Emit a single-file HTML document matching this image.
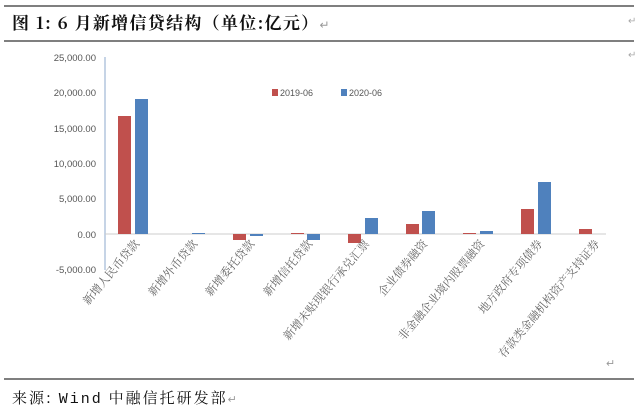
<!DOCTYPE html>
<html><head><meta charset="utf-8"><style>
body{margin:0;width:640px;height:418px;background:#fff;overflow:hidden;font-family:"Liberation Sans","Noto Sans CJK SC",sans-serif}
</style></head><body>
<svg width="640" height="418" xmlns="http://www.w3.org/2000/svg" style="position:absolute;left:0;top:0">
<line x1="4" y1="6" x2="634" y2="6" stroke="#333" stroke-width="1.2"/>
<line x1="4" y1="41" x2="634" y2="41" stroke="#333" stroke-width="1.2"/>
<text x="12" y="29" font-size="17" font-weight="bold" letter-spacing="1.3" font-family="Noto Serif CJK SC,serif" fill="#111">图 1: 6 月新增信贷结构（单位:亿元）<tspan fill="#999" font-weight="normal" font-size="12">↵</tspan></text>
<text x="628" y="24" font-size="10" fill="#aaa">↵</text>
<text x="628" y="58" font-size="10" fill="#aaa">↵</text>
<g font-size="9.5" fill="#555" text-anchor="end">
<text x="96" y="61">25,000.00</text>
<text x="96" y="96">20,000.00</text>
<text x="96" y="132">15,000.00</text>
<text x="96" y="167">10,000.00</text>
<text x="96" y="202">5,000.00</text>
<text x="96" y="238">0.00</text>
<text x="96" y="273">-5,000.00</text>
</g>
<line x1="105" y1="57" x2="105" y2="270" stroke="#8eaacc" stroke-width="1"/>
<line x1="105" y1="234" x2="606" y2="234" stroke="#ccc" stroke-width="1"/>
<g fill="#c0504d">
<rect x="118" y="116" width="13" height="118"/>
<rect x="233" y="234" width="13" height="6"/>
<rect x="291" y="233" width="13" height="1"/>
<rect x="348" y="234" width="13" height="9"/>
<rect x="406" y="224" width="13" height="10"/>
<rect x="463" y="233" width="13" height="1"/>
<rect x="521" y="209" width="13" height="25"/>
<rect x="579" y="229" width="13" height="5"/>
</g>
<g fill="#4f81bd">
<rect x="135" y="99" width="13" height="135"/>
<rect x="192" y="233" width="13" height="1"/>
<rect x="250" y="234" width="13" height="2"/>
<rect x="307" y="234" width="13" height="6"/>
<rect x="365" y="218" width="13" height="16"/>
<rect x="422" y="211" width="13" height="23"/>
<rect x="480" y="231" width="13" height="3"/>
<rect x="538" y="182" width="13" height="52"/>
</g>
<rect x="272" y="89" width="6" height="7" fill="#c0504d"/>
<text x="280" y="96" font-size="9" fill="#555">2019-06</text>
<rect x="341" y="89" width="6" height="7" fill="#4f81bd"/>
<text x="349" y="96" font-size="9" fill="#555">2020-06</text>
<g font-size="11.5" fill="#666" text-anchor="end" font-family="Noto Serif CJK SC,serif">
<text transform="translate(140,244) rotate(-50)">新增人民币贷款</text>
<text transform="translate(198,244) rotate(-50)">新增外币贷款</text>
<text transform="translate(255,244) rotate(-50)">新增委托贷款</text>
<text transform="translate(313,244) rotate(-50)">新增信托贷款</text>
<text transform="translate(370,244) rotate(-50)">新增未贴现银行承兑汇票</text>
<text transform="translate(428,244) rotate(-50)">企业债券融资</text>
<text transform="translate(485,244) rotate(-50)">非金融企业境内股票融资</text>
<text transform="translate(543,244) rotate(-50)">地方政府专项债券</text>
<text transform="translate(600,244) rotate(-50)">存款类金融机构资产支持证券</text>
</g>
<text x="606" y="367" font-size="11" fill="#999">↵</text>
<line x1="4" y1="379" x2="634" y2="379" stroke="#333" stroke-width="1.2"/>
<text x="12" y="403" font-size="15" fill="#111" letter-spacing="2" font-family="Noto Serif CJK SC,serif">来源: <tspan font-family="Liberation Mono,monospace">Wind</tspan> 中融信托研发部<tspan fill="#999" font-size="11" letter-spacing="0">↵</tspan></text>
</svg>
</body></html>
